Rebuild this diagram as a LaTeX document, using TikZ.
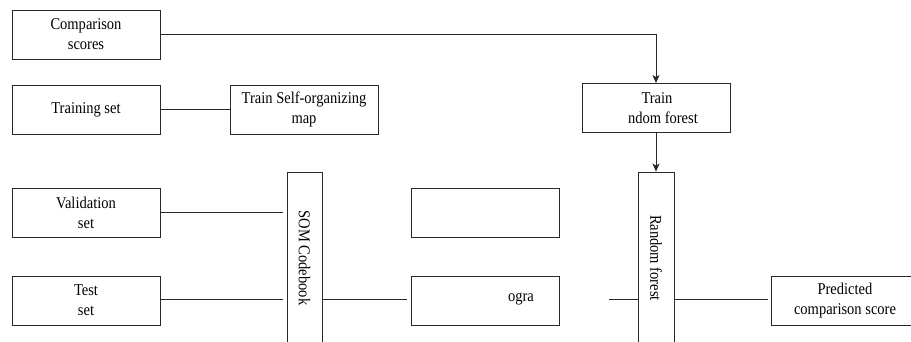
\documentclass[tikz,border=0pt]{standalone}
\usepackage{fontspec}
\setmainfont{Liberation Serif}[FakeStretch=0.88]
\usetikzlibrary{arrows.meta,positioning}
\definecolor{mygray}{RGB}{40,40,40}
\tikzstyle{block}=[draw=mygray,line width=0.9pt,minimum width=148pt,minimum height=49pt,inner sep=0pt,align=center,font=\fontsize{16.5}{20}\selectfont]
\tikzstyle{tallblock}=[draw=mygray,line width=0.9pt,minimum height=172pt,inner sep=0pt,font=\fontsize{16.5}{20}\selectfont]
\tikzstyle{link}=[draw=mygray,line width=0.8pt]

\begin{document}
\begin{tikzpicture}[x=1pt,y=-1pt,>={Stealth[length=8pt,width=7pt,inset=2pt]}]
\useasboundingbox (0,0) rectangle (911,341);
\clip (0,0) rectangle (911,341);
% left column
\node [block] (cmp) at (86,34.5) {Comparison\\scores};
\node [block] (train) at (86,109.5) {Training set};
\node [block] (val) at (86,212.5) {Validation\\set};
\node [block] (test) at (86,300.5) {Test\\set};
% SOM
\node [block] (somtrain) at (304,109.5) {Train Self-organizing\\map};
\node [tallblock,minimum width=35pt] (codebook) at (304.5,258) {\rotatebox{-90}{SOM Codebook}};
\node [block] (blank) at (485,212.5) {};
\node [block] (hist) at (485,300.5) {};
\node [font=\fontsize{16.5}{20}\selectfont] (histtext) at (521,299) {ogra};
% random forest
\node [block] (rftrain) at (656,108) {\hspace{2pt}Train\\\hspace{14pt}ndom forest};
\node [tallblock,minimum width=36pt] (rf) at (656,258) {\rotatebox{-90}{Random forest}};
\node [block] (pred) at (845,300.5) {Predicted\\comparison score};
\coordinate (cut) at (609,299);

\draw [link,->] (cmp.east) -| (rftrain.north);
\draw [link] (train.east) -- (somtrain.west);
\draw [link,->] (rftrain.south) -- (rf.north);
\draw [link,shorten >=4pt] (val.east) -- (val.east -| codebook.west);
\draw [link,shorten >=4pt] (test.east |- cut) -- (cut -| codebook.west);
\draw [link,shorten >=4pt] (cut -| codebook.east) -- (cut -| hist.west);
\draw [link] (cut) -- (cut -| rf.west);
\draw [link,shorten >=3pt] (cut -| rf.east) -- (cut -| pred.west);
\end{tikzpicture}
\end{document}
